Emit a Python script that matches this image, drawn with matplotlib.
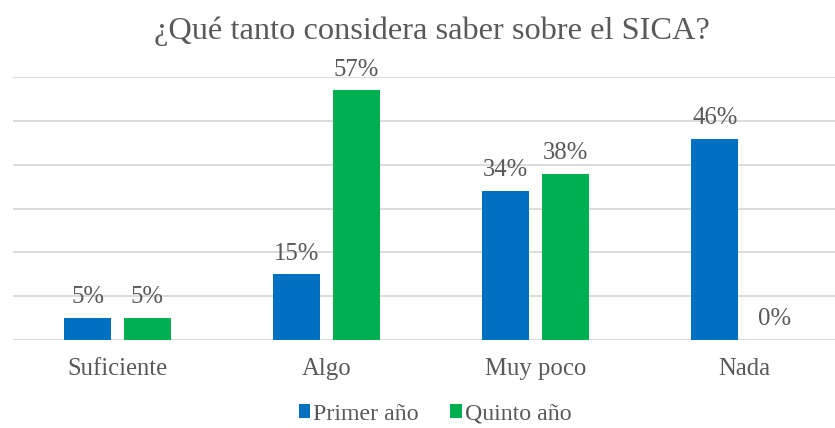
import matplotlib
matplotlib.use("Agg")
import matplotlib.pyplot as plt
import numpy as np

categories = ["Suficiente", "Algo", "Muy poco", "Nada"]
primer = [5, 15, 34, 46]
quinto = [5, 57, 38, 0]
series_names = ["Primer año", "Quinto año"]
title = "¿Qué tanto considera saber sobre el SICA?"

plt.rcParams['font.family'] = ['Liberation Serif', 'DejaVu Serif']
TXT = "#595959"
BLUE = "#0070C0"
GREEN = "#00B050"
FS = 17.8

fig = plt.figure(figsize=(8.35, 4.28), dpi=100)
W, H = 835, 428
ax = fig.add_axes([13 / W, 1 - 340 / H, (W - 13) / W, (340 - 77.3) / H])

x = np.arange(len(categories))
bw = 0.225
off = 0.142
b1 = ax.bar(x - off, primer, bw, color=BLUE, label=series_names[0], zorder=3)
b2 = ax.bar(x + off, quinto, bw, color=GREEN, label=series_names[1], zorder=3)

for bars, vals in ((b1, primer), (b2, quinto)):
    for rect, v in zip(bars, vals):
        ax.annotate(f"{v:.0f}%", (rect.get_x() + rect.get_width() / 2, rect.get_height()),
                    xytext=(0, 7), textcoords="offset points", ha="center", va="bottom",
                    fontsize=FS, color=TXT)

ax.set_xlim(-0.5, -0.5 + (W - 13) / 209)
ax.set_ylim(0, 60)
ax.set_yticks(np.arange(0, 61, 10))
ax.yaxis.grid(True, color="#D9D9D9", linewidth=1.3, zorder=0)
ax.set_axisbelow(True)
ax.tick_params(axis='y', left=False, labelleft=False)
ax.set_xticks(x)
ax.set_xticklabels(categories, fontsize=FS, color=TXT)
ax.tick_params(axis='x', length=0, pad=13)
for s in ax.spines.values():
    s.set_visible(False)

fig.text(432 / W, 1 - 31 / H, title, ha="center", va="center", fontsize=23.3, color=TXT)

leg = fig.legend(handles=[b1, b2], labels=series_names, loc="center",
                 bbox_to_anchor=(435 / W, 1 - 414 / H), ncol=2, frameon=False,
                 fontsize=17.2, handlelength=0.5, handleheight=0.5, handletextpad=0.12,
                 columnspacing=1.3, labelcolor=TXT)

fig.savefig("out.png", dpi=100)
